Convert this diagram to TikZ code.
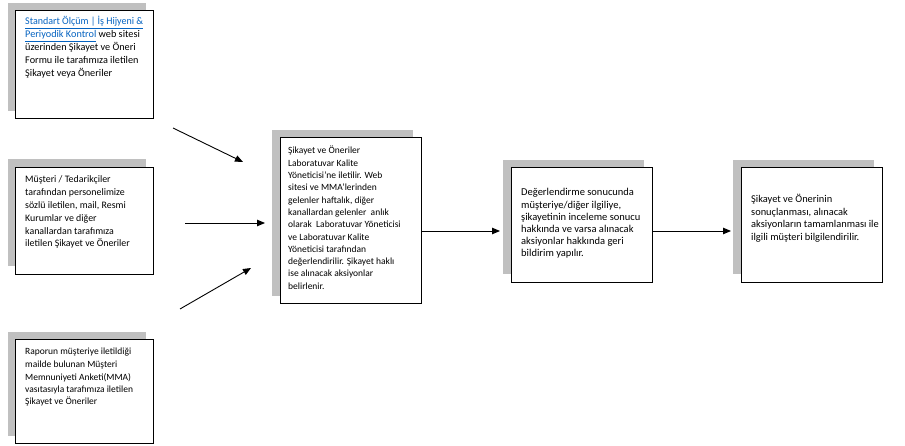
\documentclass[tikz,border=0pt]{standalone}
\usepackage{fontspec}
\usepackage{graphicx}
\setmainfont{Carlito}
\usetikzlibrary{arrows.meta}
\definecolor{shadowgray}{RGB}{192,192,192}
\definecolor{linkblue}{RGB}{5,99,193}
\newcommand{\lnk}[1]{\textcolor{linkblue}{\underline{#1}}}
\newcommand{\txtlines}[1]{\begin{tabular}[t]{@{}l@{}}#1\end{tabular}}
\tikzset{
  shadowbox/.style={fill=shadowgray, draw=none, anchor=north west, inner sep=0pt},
  mainbox/.style={fill=white, draw=black, line width=0.9pt, anchor=north west, inner sep=0pt},
  boxtext/.style={anchor=base west, inner sep=0pt, font=\fontsize{10.25}{12.6}\selectfont},
  arr/.style={draw=black, line width=0.9pt, -{Triangle[length=8pt,width=6.5pt]}}
}
\begin{document}
\begin{tikzpicture}[x=1pt,y=-1pt]
\useasboundingbox (0,0) rectangle (905,446);
% shadows
\node[shadowbox, minimum width=138pt, minimum height=108pt] (s1) at (8,3) {};
\node[shadowbox, minimum width=138pt, minimum height=107pt] (s2) at (8,159) {};
\node[shadowbox, minimum width=138pt, minimum height=104pt] (s3) at (8,332) {};
\node[shadowbox, minimum width=141pt, minimum height=166pt] (s4) at (272,130) {};
\node[shadowbox, minimum width=141pt, minimum height=114pt] (s5) at (503,160) {};
\node[shadowbox, minimum width=141pt, minimum height=114pt] (s6) at (733,160) {};
% boxes
\node[mainbox, minimum width=138pt, minimum height=108pt] (b1) at (15,10) {};
\node[mainbox, minimum width=138pt, minimum height=107pt] (b2) at (15,167) {};
\node[mainbox, minimum width=138pt, minimum height=104pt] (b3) at (15,339) {};
\node[mainbox, minimum width=141pt, minimum height=166pt] (b4) at (280,137) {};
\node[mainbox, minimum width=141pt, minimum height=115pt] (b5) at (511,167) {};
\node[mainbox, minimum width=141pt, minimum height=115pt] (b6) at (741,167) {};
% texts
\node[boxtext, font=\fontsize{10.25}{12.8}\selectfont] (t1) at (25,25) {\txtlines{\resizebox{118pt}{\height}{\lnk{Standart Ölçüm | İş Hijyeni \&}}\\ \lnk{Periyodik Kontrol} web sitesi\\ üzerinden Şikayet ve Öneri\\ Formu ile tarafımıza iletilen\\ Şikayet veya Öneriler}};
\node[boxtext, font=\fontsize{9.9}{12.8}\selectfont] (t2) at (25,183) {\txtlines{Müşteri / Tedarikçiler\\ tarafından personelimize\\ sözlü iletilen, mail, Resmi\\ Kurumlar ve diğer\\ kanallardan tarafımıza\\ iletilen Şikayet ve Öneriler}};
\node[boxtext, font=\fontsize{9.5}{12.5}\selectfont] (t3) at (25,355) {\txtlines{Raporun müşteriye iletildiği\\ mailde bulunan Müşteri\\ Memnuniyeti Anketi(MMA)\\ vasıtasıyla tarafımıza iletilen\\ Şikayet ve Öneriler}};
\node[boxtext, font=\fontsize{9.5}{12.3}\selectfont] (t4) at (288,154) {\txtlines{Şikayet ve Öneriler\\ Laboratuvar Kalite\\ Yöneticisi’ne iletilir. Web\\ sitesi ve MMA’lerinden\\ gelenler haftalık, diğer\\ kanallardan gelenler~ anlık\\ olarak~ Laboratuvar Yöneticisi\\ ve Laboratuvar Kalite\\ Yöneticisi tarafından\\ değerlendirilir. Şikayet haklı\\ ise alınacak aksiyonlar\\ belirlenir.}};
\node[boxtext, font=\fontsize{10.5}{12.2}\selectfont] (t5) at (521,196) {\txtlines{Değerlendirme sonucunda\\ müşteriye/diğer ilgiliye,\\ şikayetinin inceleme sonucu\\ hakkında ve varsa alınacak\\ aksiyonlar hakkında geri\\ bildirim yapılır.}};
\node[boxtext, font=\fontsize{10.4}{12.5}\selectfont] (t6) at (751,203) {\txtlines{Şikayet ve Önerinin\\ sonuçlanması, alınacak\\ aksiyonların tamamlanması ile\\ ilgili müşteri bilgilendirilir.}};
% connectors
\coordinate (a1s) at (173,128);
\coordinate (a1e) at (243,162);
\coordinate (a2s) at (185,223);
\coordinate (a2e) at (265,223);
\coordinate (a3s) at (180,309);
\coordinate (a3e) at (251,268);
\coordinate (c45) at (500,231);
\coordinate (c56) at (731,231);
\draw[arr] (a1s) -- (a1e);
\draw[arr] (a2s) -- (a2e);
\draw[arr] (a3s) -- (a3e);
\draw[arr] (b4.east |- c45) -- (c45);
\draw[arr] (b5.east |- c56) -- (c56);
\end{tikzpicture}
\end{document}
